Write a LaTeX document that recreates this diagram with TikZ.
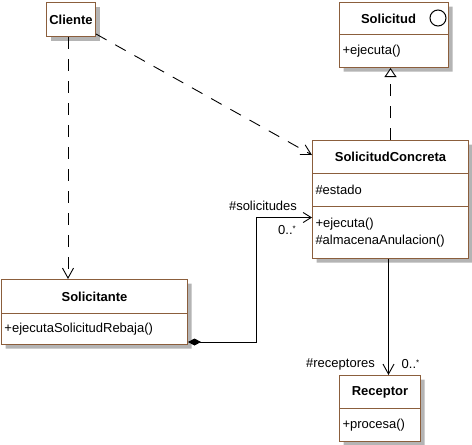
\documentclass[tikz,border=0pt]{standalone}
\usepackage{fontspec}
\setmainfont{Liberation Sans}
\usepackage{tikz}
\usetikzlibrary{shapes}
\usetikzlibrary{calc}
\usetikzlibrary{arrows.meta}
\usetikzlibrary{shadows}

\definecolor{umlbrown}{RGB}{139,94,60}
\definecolor{umlshadow}{RGB}{180,180,180}

\newcommand{\umlfont}{\fontsize{13}{17}\selectfont}
\newcommand{\ctitle}[3]{\parbox[c][#2pt][c]{#1pt}{\centering\bfseries #3}}
\newcommand{\cmembers}[3]{\parbox[c][#2pt][c]{#1pt}{\raggedright\leftskip=3pt #3}}
\newcommand{\many}{0..\raisebox{3pt}{\fontsize{8}{8}\selectfont *}}

\begin{document}
\begin{tikzpicture}[x=1pt,y=-1pt]
    \tikzstyle{classbox}=[draw=umlbrown, fill=white, line width=1pt, inner sep=0pt, font=\umlfont, anchor=north west, drop shadow={shadow xshift=4pt, shadow yshift=-4pt, fill=umlshadow, opacity=1}]
    \tikzstyle{classsplit}=[classbox, rectangle split, rectangle split parts=2]
    \tikzstyle{dep}=[-{Straight Barb[length=10pt,width=11pt]}, line width=0.9pt, dash pattern=on 12pt off 10pt]
    \tikzstyle{real}=[-{Triangle[open,fill=white,length=9pt,width=12pt]}, line width=0.9pt, dash pattern=on 12pt off 10pt]
    \tikzstyle{assoc}=[{Diamond[length=13pt,width=7pt]}-{Straight Barb[length=8pt,width=10pt]}, line width=0.9pt]
    \tikzstyle{nav}=[-{Straight Barb[length=10pt,width=11pt]}, line width=0.9pt]
    \tikzstyle{role}=[font=\umlfont, inner sep=0pt]

    \useasboundingbox (0,0) rectangle (472,445);

    % nodes
    \node (cli) [classbox] at (46,2) {\ctitle{49}{34}{Cliente}};
    \node (sol) [classsplit] at (339,2) {\ctitle{109}{31}{Solicitud\kern11pt} \nodepart{two}\cmembers{109}{32}{+ejecuta()}};
    \node (solicon) [draw, circle, minimum size=16pt, inner sep=0pt, line width=1pt] at ($(sol.north east)+(-11,16)$) {};
    \node (sc) [classsplit, rectangle split parts=3] at (312,140) {\ctitle{156}{32}{SolicitudConcreta} \nodepart{two}\cmembers{156}{32}{\#estado} \nodepart{three}\cmembers{156}{51}{+ejecuta()\\\#almacenaAnulacion()}};
    \node (soli) [classsplit] at (1,279) {\ctitle{186}{33}{Solicitante} \nodepart{two}\cmembers{186}{30}{+ejecutaSolicitudRebaja()}};
    \node (rec) [classsplit] at (339,375) {\ctitle{81}{32}{Receptor} \nodepart{two}\cmembers{81}{32}{+procesa()}};

    % arrows
    \coordinate (cliout) at ([xshift=-3pt]cli.south);
    \draw[dep] (cliout) -- (cliout |- soli.north);
    \draw[dep] ([yshift=3pt]cli.south east) -- ($(sc.north west)+(0,15)$);

    \draw[real] (sc.north) -- (sc.north |- sol.south);

    \coordinate (solin) at ([yshift=-11pt]sc.two split west);
    \draw[assoc] ([yshift=3pt]soli.south east) -- ++(68,0) |- (solin);

    \coordinate (recin) at ([xshift=-2pt]sc.south);
    \draw[nav] (recin) -- (recin |- rec.north);

    % captions
    \path (solin)+(-49,-12) node (csol) [role] {\#solicitudes};
    \path (solin)+(-25,13) node (msol) [role] {\many};
    \path (recin |- rec.north)+(-48,-11) node (crec) [role] {\#receptores};
    \path (recin |- rec.north)+(22,-11) node (mrec) [role] {\many};
\end{tikzpicture}
\end{document}
